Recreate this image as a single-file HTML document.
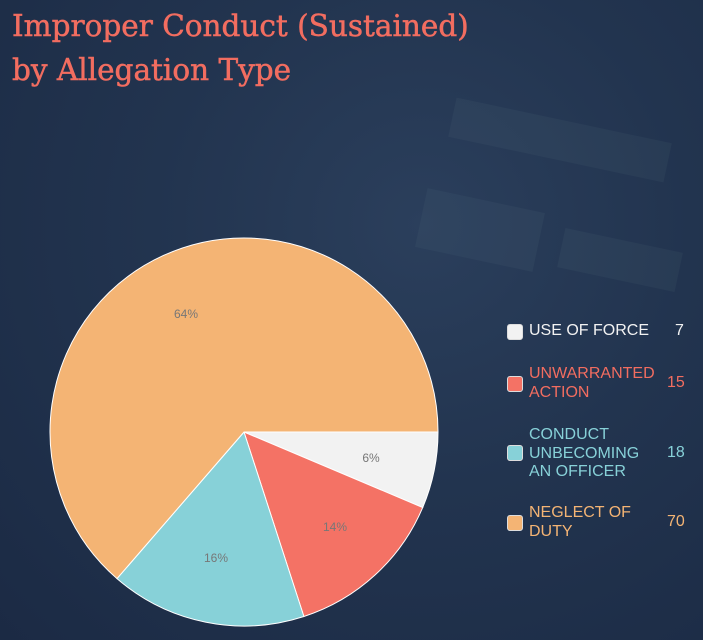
<!DOCTYPE html>
<html><head><style>
body{margin:0;width:703px;height:640px;overflow:hidden;background:#1f2f4a;font-family:"Liberation Sans",sans-serif;}
.bg{position:absolute;left:0;top:0;width:703px;height:640px;background:radial-gradient(ellipse at 60% 35%,#2b3f5c 0%,#22344f 45%,#1b2a44 100%);}
h1{position:absolute;left:12px;top:4px;margin:0;font-family:"DejaVu Serif","Liberation Serif",serif;font-weight:normal;font-size:29.5px;line-height:44px;color:#f26d60;-webkit-text-stroke:0.5px #f26d60;white-space:nowrap}
.lg{position:absolute;font-size:16px;line-height:18.5px}
.sw{position:absolute;width:14px;height:14px;border-radius:3px;border:1px solid #ddd;}
</style></head><body>
<div class="bg"></div>
<svg style="position:absolute;left:0;top:0" width="703" height="640">
<g opacity="0.06" fill="#8aa">
<rect x="450" y="120" width="220" height="40" transform="rotate(12 560 140)"/>
<rect x="420" y="200" width="120" height="60" transform="rotate(12 480 230)"/>
<rect x="560" y="240" width="120" height="40" transform="rotate(12 620 260)"/>
</g>
<g stroke="#fff" stroke-width="1">
<path d="M244 432 L438 432 A194 194 0 0 1 422.7 507.5 Z" fill="#f2f2f2"/>
<path d="M244 432 L422.7 507.5 A194 194 0 0 1 303.9 616.5 Z" fill="#f47265"/>
<path d="M244 432 L303.9 616.5 A194 194 0 0 1 117 578.6 Z" fill="#87d1d8"/>
<path d="M244 432 L117 578.6 A194 194 0 1 1 438 432 Z" fill="#f4b474"/>
</g>
<g font-family="Liberation Sans,sans-serif" font-size="12" fill="#777" text-anchor="middle">
<text x="371" y="462">6%</text><text x="335" y="531">14%</text>
<text x="216" y="562">16%</text><text x="186" y="318">64%</text>
</g>
</svg>
<h1>Improper Conduct (Sustained)<br>by Allegation Type</h1>
<div class="sw" style="left:507px;top:324px;background:#f2f2f2"></div>
<div class="lg" style="left:529px;top:322px;color:#f2f2f2">USE OF FORCE</div>
<div class="lg" style="left:675px;top:322px;color:#f2f2f2">7</div>
<div class="sw" style="left:507px;top:376px;background:#f47265"></div>
<div class="lg" style="left:529px;top:365px;color:#f26d60">UNWARRANTED<br>ACTION</div>
<div class="lg" style="left:667px;top:374px;color:#f26d60">15</div>
<div class="sw" style="left:507px;top:445px;background:#87d1d8"></div>
<div class="lg" style="left:529px;top:426px;color:#87d1d8">CONDUCT<br>UNBECOMING<br>AN OFFICER</div>
<div class="lg" style="left:667px;top:444px;color:#87d1d8">18</div>
<div class="sw" style="left:507px;top:515px;background:#f4b474"></div>
<div class="lg" style="left:529px;top:504px;color:#f4b474">NEGLECT OF<br>DUTY</div>
<div class="lg" style="left:667px;top:513px;color:#f4b474">70</div>
</body></html>
